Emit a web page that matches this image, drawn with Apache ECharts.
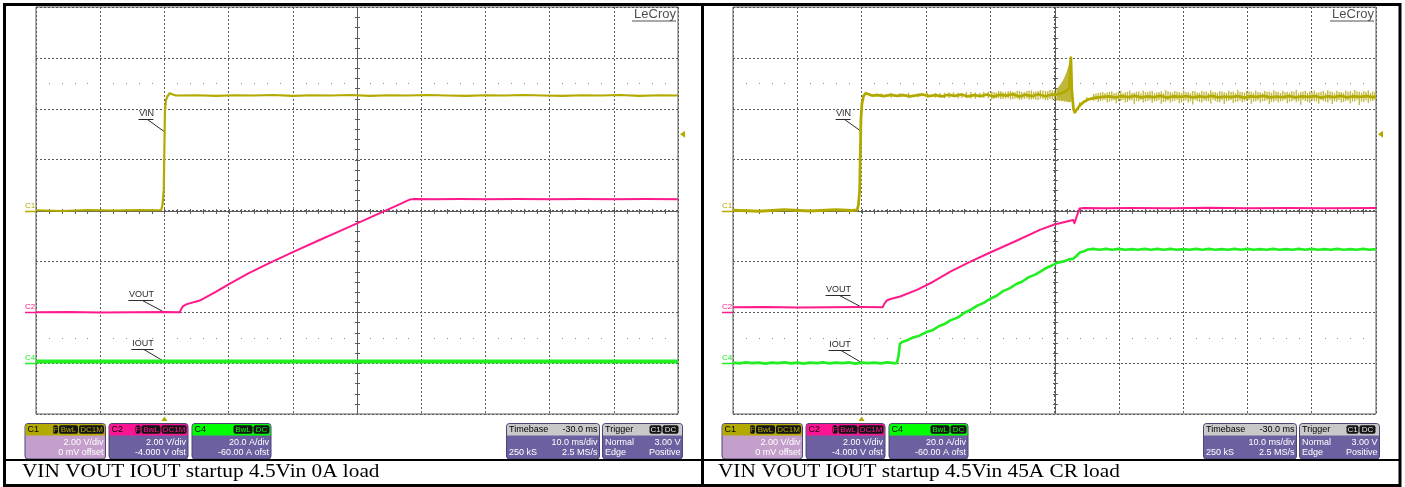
<!DOCTYPE html>
<html>
<head>
<meta charset="utf-8">
<script src="https://cdn.jsdelivr.net/npm/echarts@6/dist/echarts.min.js"></script>
<style>
  html, body { margin: 0; padding: 0; background: #fff; }
  #c { width: 1405px; height: 487px; }
</style>
</head>
<body>
<div id="c"></div>
<script>
// ---- time base: 10 ms/div, 10 divisions, trigger at 0 ms ----
const timeRange = [-20, 80];
const timeDiv = 10;

// ---- channel settings (volts or amps per division, offset) ----
const channels = {
  C1: { scale: 2, offset: 0 },
  C2: { scale: 2, offset: -4 },
  C4: { scale: 20, offset: -60 }
};

// ---- left capture: 4.5 Vin, 0 A load  ([ms, value]) ----
const vinNoLoad = [
  [-20,0.01],[-16,-0.02],[-12,0.02],[-8,0.0],[-4,0.02],[-1,0.01],[-0.5,0.02],[-0.3,0.2],
  [-0.1,0.8],[0,2.5],[0.08,3.9],[0.25,4.35],[0.5,4.5],[0.85,4.61],[1.3,4.56],[1.8,4.52],
  [5,4.53],[8,4.51],[11,4.53],[14,4.52],[17,4.54],[20,4.51],[23,4.53],[26,4.52],[29,4.54],
  [32,4.51],[35,4.53],[38,4.52],[41,4.54],[44,4.52],[47,4.51],[50,4.53],[53,4.52],[56,4.54],
  [59,4.52],[62,4.51],[65,4.53],[68,4.52],[71,4.54],[74,4.51],[77,4.53],[80,4.52]
];
const voutNoLoad = [
  [-20,0.0],[-15,0.01],[-10,-0.01],[-5,0.0],[0,0.01],[2.4,0.0],[2.6,0.12],[2.9,0.24],
  [3.5,0.32],[5.5,0.46],[8,0.8],[10,1.1],[13,1.52],[16,1.89],[20,2.36],[24,2.82],[28,3.27],
  [32,3.72],[36,4.17],[38.2,4.43],[39,4.45],[42,4.44],[46,4.45],[50,4.44],[55,4.45],[60,4.44],
  [65,4.45],[70,4.44],[75,4.45],[80,4.44]
];
const ioutNoLoad = [
  [-20,0.6],[-10,0.6],[0,0.6],[10,0.6],[20,0.6],[30,0.6],[40,0.6],[50,0.6],[60,0.6],[70,0.6],[80,0.6]
];

// ---- right capture: 4.5 Vin, 45 A CR load ----
const vinLoad = [
  [-20,0.01],[-16,-0.03],[-12,0.03],[-8,-0.02],[-4,0.03],[-1.5,0.0],[-0.7,0.02],[-0.5,0.2],
  [-0.3,0.8],[-0.2,2.3],[-0.1,3.6],[0.05,4.2],[0.3,4.5],[0.65,4.61],[1.1,4.57],[1.6,4.52],
  [2.5,4.54],[3.5,4.50],[4.5,4.55],[5.5,4.51],[6.5,4.54],[7.5,4.49],[8.5,4.53],[9.5,4.56],
  [10.5,4.50],[11.5,4.54],[12.5,4.49],[13.5,4.55],[14.5,4.51],[15.5,4.56],[16.5,4.49],[17.5,4.54],
  [18.5,4.50],[19.5,4.56],[20.5,4.48],[21.5,4.55],[22.5,4.52],[23.5,4.57],[24.5,4.48],[25.5,4.55],
  [26.5,4.50],[27.5,4.57],[28.5,4.49],[29.5,4.55],[30.3,4.56],[31,4.6],[31.7,4.68],[32.3,4.8],
  [32.55,6.0],[32.7,4.7],[32.95,4.0],[33.15,3.86],[33.5,3.98],[34,4.15],[34.6,4.28],[35.3,4.37],
  [36.2,4.43],[37.5,4.47],[38.5,4.49],[39.5,4.45],[40.5,4.50],[41.5,4.46],[42.5,4.51],[43.5,4.45],
  [44.5,4.49],[45.5,4.46],[46.5,4.51],[47.5,4.44],[48.5,4.49],[49.5,4.47],[50.5,4.50],[51.5,4.45],
  [52.5,4.49],[53.5,4.46],[54.5,4.51],[55.5,4.45],[56.5,4.48],[57.5,4.46],[58.5,4.50],[59.5,4.44],
  [60.5,4.49],[61.5,4.47],[62.5,4.51],[63.5,4.45],[64.5,4.48],[65.5,4.46],[66.5,4.50],[67.5,4.45],
  [68.5,4.49],[69.5,4.47],[70.5,4.50],[71.5,4.44],[72.5,4.49],[73.5,4.46],[74.5,4.51],[75.5,4.45],
  [76.5,4.49],[77.5,4.47],[78.5,4.50],[79.5,4.46],[80,4.48]
];
// switching noise on VIN: [ms, low, high]
const vinLoadNoise = [
  [3.1,4.45,4.60],[4.6,4.43,4.62],[5.9,4.46,4.61],[7.3,4.42,4.63],[8.8,4.45,4.60],[10.2,4.43,4.64],
  [11.5,4.44,4.62],[12.2,4.43,4.62],[12.9,4.41,4.63],[13.6,4.42,4.64],[14.3,4.45,4.65],[15.0,4.40,4.63],
  [15.6,4.42,4.62],[16.3,4.43,4.66],[17.0,4.40,4.66],[17.7,4.39,4.64],[18.4,4.44,4.63],[19.0,4.42,4.67],
  [19.7,4.41,4.67],[20.25,4.36,4.68],[20.6,4.39,4.66],[20.95,4.41,4.64],[21.3,4.42,4.70],[21.65,4.37,4.69],
  [22.0,4.38,4.65],[22.4,4.40,4.66],[22.8,4.41,4.69],[23.15,4.36,4.70],[23.5,4.37,4.67],[23.85,4.39,4.65],
  [24.2,4.40,4.71],[24.55,4.35,4.69],[24.9,4.36,4.66],[25.3,4.38,4.66],[25.7,4.40,4.70],[26.05,4.35,4.71],
  [26.4,4.37,4.72],[26.75,4.38,4.67],[27.1,4.35,4.68],[27.45,4.34,4.70],[27.8,4.39,4.73],[28.2,4.37,4.72],
  [28.6,4.34,4.70],[28.95,4.33,4.69],[29.3,4.38,4.74],[29.65,4.36,4.73],[30.0,4.33,4.72],
  [30.4,4.32,4.78],[30.5,4.36,4.80],[30.6,4.35,4.84],[30.7,4.31,4.86],[30.8,4.30,4.90],[30.9,4.35,4.93],
  [31.0,4.34,4.97],[31.1,4.30,5.01],[31.2,4.29,5.05],[31.3,4.34,5.09],[31.4,4.33,5.14],[31.5,4.29,5.19],
  [31.6,4.28,5.24],[31.7,4.33,5.30],[31.8,4.32,5.36],[31.9,4.28,5.42],[32.0,4.27,5.49],[32.08,4.31,5.55],
  [32.15,4.31,5.61],[32.22,4.27,5.67],[32.3,4.26,5.74],[32.38,4.31,5.81],[32.45,4.30,5.89],[32.5,4.27,5.96],
  [32.55,4.28,6.05],[33.9,4.05,4.25],[35.0,4.28,4.45],
  [36.1,4.30,4.58],[36.45,4.34,4.60],[36.8,4.27,4.62],[37.15,4.30,4.63],[37.5,4.33,4.66],[37.85,4.35,4.61],
  [38.2,4.25,4.64],[38.55,4.28,4.66],[38.9,4.31,4.69],[39.25,4.33,4.62],[39.6,4.22,4.63],[39.95,4.29,4.67],
  [40.3,4.30,4.70],[40.65,4.34,4.61],[41.0,4.26,4.65],[41.35,4.27,4.66],[41.7,4.32,4.71],[42.05,4.33,4.62],
  [42.4,4.18,4.64],[42.75,4.30,4.67],[43.1,4.29,4.68],[43.45,4.35,4.60],[43.8,4.25,4.72],[44.15,4.28,4.65],
  [44.5,4.31,4.66],[44.85,4.33,4.69],[45.2,4.23,4.70],[45.55,4.29,4.62],[45.9,4.30,4.64],[46.25,4.34,4.66],
  [46.6,4.20,4.69],[46.95,4.27,4.61],[47.3,4.28,4.73],[47.65,4.32,4.68],[48.0,4.24,4.66],[48.35,4.29,4.63],
  [48.7,4.31,4.70],[49.05,4.35,4.67],[49.4,4.22,4.65],[49.75,4.26,4.62],[50.1,4.29,4.72],[50.45,4.33,4.66],
  [50.8,4.25,4.67],[51.15,4.29,4.61],[51.5,4.17,4.70],[51.85,4.34,4.68],[52.2,4.30,4.64],[52.55,4.27,4.63],
  [52.9,4.24,4.71],[53.25,4.32,4.67],[53.6,4.29,4.68],[53.95,4.30,4.62],[54.3,4.21,4.73],[54.65,4.35,4.66],
  [55.0,4.30,4.66],[55.35,4.26,4.63],[55.7,4.26,4.70],[56.05,4.33,4.68],[56.4,4.19,4.65],[56.75,4.29,4.62],
  [57.1,4.31,4.71],[57.45,4.34,4.66],[57.8,4.23,4.68],[58.15,4.27,4.61],[58.5,4.28,4.74],[58.85,4.32,4.67],
  [59.2,4.25,4.66],[59.55,4.29,4.63],[59.9,4.31,4.70],[60.25,4.35,4.68],[60.6,4.20,4.67],[60.95,4.28,4.62],
  [61.3,4.29,4.72],[61.65,4.33,4.66],[62.0,4.24,4.65],[62.35,4.30,4.61],[62.7,4.30,4.70],[63.05,4.34,4.67],
  [63.4,4.18,4.68],[63.75,4.27,4.63],[64.1,4.28,4.73],[64.45,4.32,4.68],[64.8,4.25,4.66],[65.15,4.29,4.62],
  [65.5,4.31,4.71],[65.85,4.35,4.66],[66.2,4.22,4.67],[66.55,4.28,4.63],[66.9,4.29,4.70],[67.25,4.33,4.67],
  [67.6,4.26,4.74],[67.95,4.30,4.61],[68.3,4.16,4.66],[68.65,4.34,4.68],[69.0,4.30,4.71],[69.35,4.27,4.62],
  [69.7,4.24,4.68],[70.05,4.32,4.66],[70.4,4.29,4.72],[70.75,4.29,4.63],[71.1,4.21,4.65],[71.45,4.35,4.67],
  [71.8,4.30,4.70],[72.15,4.28,4.62],[72.5,4.25,4.73],[72.85,4.33,4.68],[73.2,4.19,4.67],[73.55,4.30,4.61],
  [73.9,4.28,4.71],[74.25,4.34,4.66],[74.6,4.24,4.66],[74.95,4.27,4.63],[75.3,4.30,4.72],[75.65,4.32,4.67],
  [76.0,4.22,4.69],[76.35,4.29,4.62],[76.7,4.29,4.74],[77.05,4.35,4.68],[77.4,4.15,4.67],[77.75,4.28,4.63],
  [78.1,4.27,4.70],[78.45,4.33,4.66],[78.8,4.23,4.73],[79.15,4.30,4.62],[79.5,4.30,4.68],[79.85,4.34,4.67]
];
const voutLoad = [
  [-20,0.2],[-15,0.21],[-10,0.19],[-5,0.2],[0,0.21],[3.3,0.2],[3.5,0.32],[3.9,0.46],[4.5,0.52],
  [6,0.62],[8.6,0.88],[11,1.18],[13.8,1.6],[17,2.0],[20,2.35],[24,2.8],[27.8,3.25],[30,3.45],
  [32.9,3.63],[33.1,3.5],[33.25,3.47],[33.5,3.8],[33.9,4.08],[34.5,4.1],[38,4.09],[42,4.1],
  [48,4.09],[54,4.11],[60,4.09],[66,4.1],[72,4.09],[80,4.1]
];
const ioutLoad = [
  [-20,0.2],[-19,-0.1],[-18,0.3],[-17,0.0],[-16,0.2],[-15,-0.2],[-14,0.2],[-13,0.0],[-12,0.3],
  [-11,-0.1],[-10,0.2],[-9,-0.2],[-8,0.2],[-7,0.0],[-6,0.3],[-5,-0.1],[-4,0.2],[-3,0.0],[-2,0.3],
  [-1,-0.2],[0,0.2],[1,0.0],[2,0.2],[3,-0.1],[4,0.3],[5,0.0],[5.5,0.1],[5.75,3.0],[5.95,7.5],
  [6.3,8.3],[7,8.9],[8,10.1],[9,10.8],[10,12.1],[11,12.9],[12,14.5],[13,15.5],[13.8,16.8],
  [15,18.0],[16,19.8],[17,21.0],[18,22.6],[19,23.7],[20,25.3],[21,26.5],[22,28.3],[23,29.4],
  [24,31.0],[25,32.1],[26,33.8],[27,34.8],[27.8,36.0],[28.8,37.5],[29.6,38.4],[30.5,39.5],
  [31.5,40.0],[32.2,40.8],[32.9,41.0],[33.5,42.3],[34,43.6],[34.6,44.0],[35.2,44.7],[36,44.9],
  [37,44.6],[38,44.9],[39,44.6],[40,44.9],[41,44.6],[42,44.8],[43,44.6],[44,44.9],[45,44.6],
  [46,44.9],[47,44.6],[48,44.9],[49,44.6],[50,44.8],[51,44.6],[52,44.9],[53,44.6],[54,44.9],
  [55,44.6],[56,44.8],[57,44.6],[58,44.9],[59,44.6],[60,44.9],[61,44.6],[62,44.8],[63,44.6],
  [64,44.9],[65,44.6],[66,44.8],[67,44.6],[68,44.9],[69,44.6],[70,44.9],[71,44.6],[72,44.8],
  [73,44.6],[74,44.9],[75,44.6],[76,44.8],[77,44.6],[78,44.9],[79,44.6],[80,44.8]
];

// ---- texts ----
const captions = ['VIN VOUT IOUT startup 4.5Vin 0A load', 'VIN VOUT IOUT startup 4.5Vin 45A CR load'];
const channelRows = {
  C1: ['2.00 V/div', '0 mV offset'],
  C2: ['2.00 V/div', '-4.000 V ofst'],
  C4: ['20.0 A/div', '-60.00 A ofst']
};
const timebaseRows = { head: ['Timebase', '-30.0 ms'], rows: [['', '10.0 ms/div'], ['250 kS', '2.5 MS/s']] };
const triggerRows = { head: 'Trigger', rows: [['Normal', '3.00 V'], ['Edge', 'Positive']] };
const triggerLevel = 3.0;

const COL = { C1: '#b3aa00', C2: '#ff1a8c', C4: '#22ee22' };
const HEAD = { C1: '#b3aa00', C2: '#ff1493', C4: '#00ff00' };
const UI_FONT = '"Liberation Sans", Arial, sans-serif';

const grids = [
  { left: 36, top: 7, width: 642, height: 407 },
  { left: 733, top: 7, width: 643, height: 407 }
];
const chNames = ['C1', 'C2', 'C4'];

const chart = echarts.init(document.getElementById('c'));

const xAxes = grids.map((g, i) => ({
  gridIndex: i, type: 'value', min: timeRange[0], max: timeRange[1], interval: timeDiv,
  axisLine: { show: false }, axisTick: { show: false }, axisLabel: { show: false },
  splitLine: { show: true, lineStyle: { color: '#5a5a5a', width: 1, type: [2, 2] } }
}));
const yAxes = [];
grids.forEach((g, i) => {
  chNames.forEach((n, k) => {
    const c = channels[n];
    yAxes.push({
      gridIndex: i, type: 'value',
      min: -4 * c.scale - c.offset, max: 4 * c.scale - c.offset, interval: c.scale,
      axisLine: { show: false }, axisTick: { show: false }, axisLabel: { show: false },
      splitLine: { show: k === 0, lineStyle: { color: '#5a5a5a', width: 1, type: [2, 2] } }
    });
  });
});

// center cross with 0.2-div ticks, plus the dotted rows at +/-2.5 div
function crossRenderer(params, api) {
  const ch = channels.C1;
  const tMid = (timeRange[0] + timeRange[1]) / 2;
  const yMax = 4 * ch.scale, yMin = -4 * ch.scale;
  const kids = [];
  const stroke = { stroke: '#5c5c5c', lineWidth: 1 };
  const L = api.coord([timeRange[0], 0]), R = api.coord([timeRange[1], 0]);
  const T = api.coord([tMid, yMax]), B = api.coord([tMid, yMin]);
  const yc = Math.round(L[1]) + 0.5, xc = Math.round(T[0]) + 0.5;
  kids.push({ type: 'line', shape: { x1: L[0], y1: yc, x2: R[0], y2: yc }, style: stroke });
  kids.push({ type: 'line', shape: { x1: xc, y1: T[1], x2: xc, y2: B[1] }, style: stroke });
  const tStep = timeDiv / 5;
  for (let t = timeRange[0] + tStep; t < timeRange[1]; t += tStep) {
    const p = api.coord([t, 0]);
    const x = Math.round(p[0]) + 0.5;
    kids.push({ type: 'line', shape: { x1: x, y1: yc - 2.5, x2: x, y2: yc + 2.5 }, style: stroke });
  }
  const vStep = ch.scale / 5;
  for (let v = yMin + vStep; v < yMax - 1e-9; v += vStep) {
    const p = api.coord([tMid, v]);
    const y = Math.round(p[1]) + 0.5;
    kids.push({ type: 'line', shape: { x1: xc - 2.5, y1: y, x2: xc + 2.5, y2: y }, style: stroke });
  }
  [2.5, -2.5].forEach(d => {
    for (let t = timeRange[0] + tStep; t < timeRange[1]; t += tStep) {
      if (Math.abs(Math.round(t / timeDiv) * timeDiv - t) < 1e-6) continue;
      const p = api.coord([t, d * ch.scale]);
      kids.push({ type: 'rect', shape: { x: Math.round(p[0]), y: Math.round(p[1]), width: 1, height: 1 }, style: { fill: '#8a8a8a' } });
    }
  });
  return { type: 'group', children: kids };
}

function hairRenderer(params, api) {
  const a = api.coord([api.value(0), api.value(1)]);
  const b = api.coord([api.value(0), api.value(2)]);
  return { type: 'line', shape: { x1: a[0], y1: a[1], x2: b[0], y2: b[1] },
           style: { stroke: '#bfb73a', lineWidth: 1.3 } };
}

function trace(g, chIdx, data, color, width, z) {
  return {
    type: 'line', xAxisIndex: g, yAxisIndex: g * 3 + chIdx, data: data,
    showSymbol: false, symbol: 'none', smooth: false, silent: true, z: z || 3,
    lineStyle: { color: color, width: width, join: 'round' }
  };
}

const series = [
  { type: 'custom', xAxisIndex: 0, yAxisIndex: 0, data: [[30, 0]], renderItem: crossRenderer, silent: true, z: 1 },
  { type: 'custom', xAxisIndex: 1, yAxisIndex: 3, data: [[30, 0]], renderItem: crossRenderer, silent: true, z: 1 },
  trace(0, 2, ioutNoLoad, COL.C4, 4),
  trace(0, 1, voutNoLoad, COL.C2, 2),
  trace(0, 0, vinNoLoad, COL.C1, 2.2),
  trace(1, 2, ioutLoad, COL.C4, 2.6),
  trace(1, 1, voutLoad, COL.C2, 2),
  { type: 'custom', xAxisIndex: 1, yAxisIndex: 3, data: vinLoadNoise, renderItem: hairRenderer,
    encode: { x: 0, y: [1, 2] }, silent: true, z: 3 },
  trace(1, 0, vinLoad, COL.C1, 2.8, 4)
];

chart.setOption({
  animation: false,
  backgroundColor: '#ffffff',
  grid: grids.map(g => Object.assign({ show: true, borderColor: '#5a5a5a', borderWidth: 1, backgroundColor: 'transparent', containLabel: false }, g)),
  xAxis: xAxes,
  yAxis: yAxes,
  series: series
});

// ---------- annotations and scope readout panels ----------
function px(g, chIdx, t, v) {
  return chart.convertToPixel({ xAxisIndex: g, yAxisIndex: g * 3 + chIdx }, [t, v]);
}
const gfx = [];
const txt = (x, y, s, opt) => gfx.push(Object.assign({
  type: 'text', x: x, y: y, silent: true,
  style: Object.assign({ text: s, fill: '#000', font: '9px ' + UI_FONT, textAlign: 'left', textVerticalAlign: 'middle' }, opt || {})
}));
const ln = (x1, y1, x2, y2, stroke, w) => gfx.push({ type: 'line', silent: true,
  shape: { x1, y1, x2, y2 }, style: { stroke: stroke, lineWidth: w || 1 } });

function traceLabel(text, w, ep) {
  const uy = Math.round(ep[1] - 12.5) + 0.5;
  txt(ep[0] - 11 - w / 2, uy - 6, text, { fill: '#2a2a2a', textAlign: 'center', font: '9px ' + UI_FONT });
  ln(ep[0] - 12 - w, uy, ep[0] - 11, uy, '#2a2a2a', 1);
  ln(ep[0] - 11 - w / 2 + 1, uy, ep[0], ep[1], '#2a2a2a', 1);
}

const chBadges = { C1: ['F', 'BwL', 'DC1M'], C2: ['F', 'BwL', 'DC1M'], C4: ['BwL', 'DC'] };
const badgeW = { F: 5, BwL: 19, DC1M: 25, DC: 16, C1: 12 };
const BOX_Y = 423.5, BOX_H = 35.5, HEAD_H = 11.5;

function panelBox(x, w, headFill, bodyFill) {
  gfx.push({ type: 'rect', silent: true, shape: { x: x, y: BOX_Y, width: w, height: BOX_H, r: 3 },
    style: { fill: bodyFill, stroke: '#4c4576', lineWidth: 1 } });
  gfx.push({ type: 'rect', silent: true, shape: { x: x + 0.5, y: BOX_Y + 0.5, width: w - 1, height: HEAD_H, r: [2.5, 2.5, 0, 0] },
    style: { fill: headFill } });
}
function badges(xRight, list, color) {
  let bx = xRight;
  for (let i = list.length - 1; i >= 0; i--) {
    const bw = badgeW[list[i]];
    gfx.push({ type: 'rect', silent: true, shape: { x: bx - bw, y: BOX_Y + 1.8, width: bw, height: 8.4, r: 2 },
      style: { fill: '#141414' } });
    txt(bx - bw / 2, BOX_Y + 6.2, list[i], { fill: color, textAlign: 'center', font: '8px ' + UI_FONT });
    bx -= bw + 1;
  }
}
function bodyRows(x, w, rows) {
  rows.forEach((r, k) => {
    const y = BOX_Y + 19 + k * 10.5;
    if (r[0]) txt(x + 2.5, y, r[0], { fill: '#ffffff' });
    if (r[1]) txt(x + w - 2, y, r[1], { fill: '#ffffff', textAlign: 'right' });
  });
}

grids.forEach((g, i) => {
  const gl = g.left, gr = g.left + g.width, gb = g.top + g.height;
  const dx = gl - 36;

  // channel ground markers on the left edge
  chNames.forEach((n, k) => {
    const p = px(i, k, timeRange[0], 0);
    const y = Math.round(p[1]) + 0.5;
    ln(gl - 11, y, gl, y, COL[n], 1.5);
    txt(gl - 6, y - 5.5, n, { fill: COL[n], textAlign: 'center', font: '8px ' + UI_FONT });
  });

  // trigger level (right edge) and trigger position (bottom edge)
  const tl = px(i, 0, timeRange[1], triggerLevel);
  gfx.push({ type: 'polygon', silent: true, shape: { points: [[gr + 2, tl[1]], [gr + 7, tl[1] - 3.5], [gr + 7, tl[1] + 3.5]] },
    style: { fill: COL.C1 } });
  const tp = px(i, 0, 0, -8);
  gfx.push({ type: 'polygon', silent: true, shape: { points: [[tp[0], gb + 2.5], [tp[0] - 3, gb + 7], [tp[0] + 3, gb + 7]] },
    style: { fill: COL.C1 } });

  // brand mark
  txt(gr - 2, 14.5, 'LeCroy', { fill: '#505050', textAlign: 'right', font: '13px ' + UI_FONT });
  ln(gr - 46, 21, gr - 2, 21, '#505050', 1);

  // trace labels with leader lines
  traceLabel('VIN', 14, px(i, 0, 0, 3.1));
  traceLabel('VOUT', 24, px(i, 1, 0, i === 0 ? 0 : 0.2));
  traceLabel('IOUT', 21, px(i, 2, 0, i === 0 ? 0.6 : 0.2));

  // readout panels
  const bx = [25 + dx, 109 + dx, 192 + dx];
  const bw = [80.5, 79, 79];
  chNames.forEach((n, k) => {
    panelBox(bx[k], bw[k], HEAD[n], n === 'C1' ? '#c49fcb' : '#6c60a0');
    txt(bx[k] + 2.5, BOX_Y + 6.3, n, { fill: '#000' });
    badges(bx[k] + bw[k] - 1.5, chBadges[n], HEAD[n]);
    bodyRows(bx[k], bw[k], [['', channelRows[n][0]], ['', channelRows[n][1]]]);
  });
  const tbx = 506.5 + dx, tbw = 93;
  panelBox(tbx, tbw, '#c9c9c9', '#6c60a0');
  txt(tbx + 2.5, BOX_Y + 6.3, timebaseRows.head[0], { fill: '#000' });
  txt(tbx + tbw - 2, BOX_Y + 6.3, timebaseRows.head[1], { fill: '#000', textAlign: 'right' });
  bodyRows(tbx, tbw, timebaseRows.rows);
  const trx = 602.5 + dx, trw = 80;
  panelBox(trx, trw, '#c9c9c9', '#6c60a0');
  txt(trx + 2.5, BOX_Y + 6.3, triggerRows.head, { fill: '#000' });
  badges(trx + trw - 4, ['C1', 'DC'], '#e8e8e8');
  bodyRows(trx, trw, triggerRows.rows);

  // caption row
  gfx.push({ type: 'text', silent: true, x: [22, 718][i], y: 472, scaleX: 1.12,
    style: { text: captions[i], fill: '#000', font: '19px "Liberation Serif", "Times New Roman", serif', textAlign: 'left', textVerticalAlign: 'middle' } });
});

// table frame
gfx.push({ type: 'rect', silent: true, shape: { x: 4.5, y: 4.5, width: 1395.5, height: 481 }, style: { fill: 'none', stroke: '#000', lineWidth: 3 } });
ln(702.5, 4, 702.5, 486, '#000', 3);
ln(4, 460, 1401, 460, '#000', 2);

chart.setOption({ graphic: gfx });
</script>
</body>
</html>
